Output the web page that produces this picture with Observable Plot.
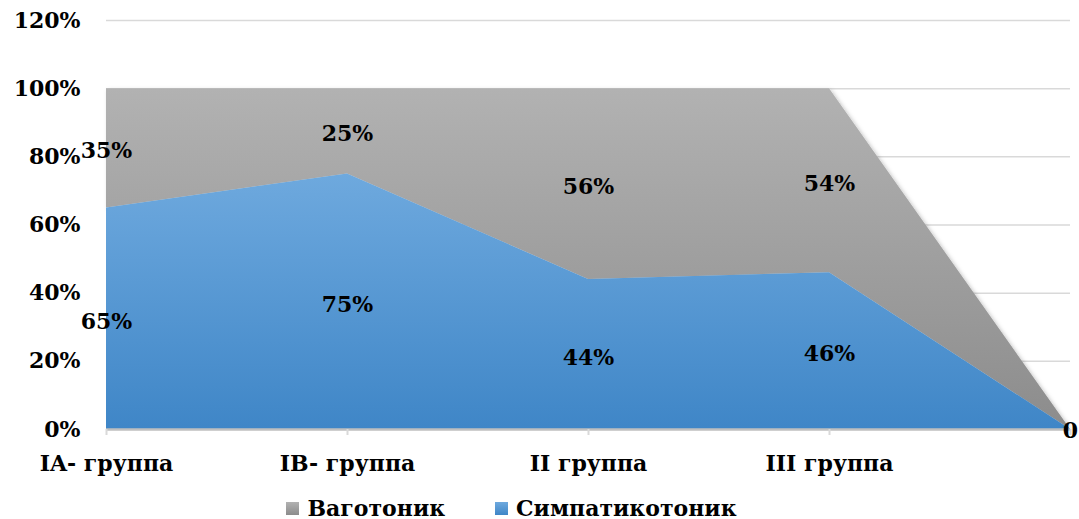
<!DOCTYPE html>
<html>
<head>
<meta charset="utf-8">
<script src="https://cdn.jsdelivr.net/npm/d3@7"></script>
<script src="https://cdn.jsdelivr.net/npm/@observablehq/plot@0.6"></script>
<style>
  html, body { margin: 0; padding: 0; background: #fff; }
  #chart { width: 1079px; }
  .legend { display: flex; justify-content: center; align-items: center; height: 34px; padding-top: 6px;
    font-family: "DejaVu Serif", serif; font-weight: bold; font-size: 22px; color: #000; padding-right: 56px; }
  .legend .item { display: flex; align-items: center; margin: 0 25px; }
  .legend .sw { width: 13px; height: 13px; margin-right: 8px; }
</style>
</head>
<body>
<div id="chart"></div>
<script>
const categories = ["IA- группа", "IB- группа", "II группа", "III группа", ""];
const sympathicotonic = [0.65, 0.75, 0.44, 0.46, 0];
const vagotonic = [0.35, 0.25, 0.56, 0.54, 0];
const seriesNames = ["Ваготоник", "Симпатикотоник"];
const yTicks = [0, 0.2, 0.4, 0.6, 0.8, 1.0, 1.2];

const rows = categories.map((c, i) => ({
  cat: c,
  s0: 0, s1: sympathicotonic[i],
  v0: sympathicotonic[i], v1: sympathicotonic[i] + vagotonic[i],
  sMid: sympathicotonic[i] / 2,
  vMid: sympathicotonic[i] + vagotonic[i] / 2,
  sv: sympathicotonic[i], vv: vagotonic[i]
}));
const fmt = v => v === 0 ? "0" : Math.round(v * 100) + "%";

const plot = Plot.plot({
  width: 1079,
  height: 485,
  marginLeft: 106,
  marginRight: 9,
  marginTop: 20,
  marginBottom: 56,
  style: { fontFamily: "DejaVu Serif, serif", fontSize: "22px", fontWeight: "bold", color: "#000", background: "#fff" },
  x: { type: "point", domain: categories, padding: 0, label: null },
  y: { domain: [0, 1.2], label: null },
  marks: [
    Plot.gridY(yTicks.filter(t => t > 0), { stroke: "#d9d9d9", strokeOpacity: 1, strokeWidth: 1.5 }),
    Plot.areaY(rows, { x: "cat", y1: "v0", y2: "v1", fill: "url(#gGray)", curve: "linear", className: "grayArea" }),
    Plot.areaY(rows, { x: "cat", y1: "s0", y2: "s1", fill: "url(#gBlue)", curve: "linear" }),
    Plot.ruleY([0], { stroke: "#bfbfbf", strokeWidth: 2.5 }),
    Plot.axisX({ tickSize: 6, tickPadding: 20, stroke: "#d9d9d9", strokeWidth: 2, tickFormat: d => d, fill: "#000", label: null }),
    Plot.axisY({ ticks: yTicks, tickSize: 0, tickPadding: 26, tickFormat: d => Math.round(d * 100) + "%", fill: "#000", label: null }),
    Plot.text(rows.filter(r => r.vv > 0), { x: "cat", y: "vMid", text: d => fmt(d.vv), dy: 3, fill: "#000" }),
    Plot.text(rows.filter(r => r.sv > 0), { x: "cat", y: "sMid", text: d => fmt(d.sv), dy: 3, fill: "#000" }),
    Plot.text(rows.filter(r => r.sv === 0 && r.vv === 0), { x: "cat", y: "s1", text: d => fmt(d.sv), dy: 1, fill: "#000" })
  ]
});

const defs = `
<defs>
  <linearGradient id="gBlue" x1="0" y1="0" x2="0" y2="1">
    <stop offset="0" stop-color="#6ea9de"/>
    <stop offset="1" stop-color="#3f86c7"/>
  </linearGradient>
  <linearGradient id="gGray" x1="0" y1="0" x2="0" y2="1">
    <stop offset="0" stop-color="#b2b2b2"/>
    <stop offset="1" stop-color="#8c8c8c"/>
  </linearGradient>
  <filter id="shadow" x="-5%" y="-5%" width="110%" height="110%">
    <feDropShadow dx="2" dy="2" stdDeviation="2" flood-color="#000" flood-opacity="0.25"/>
  </filter>
</defs>`;
plot.insertAdjacentHTML("afterbegin", defs);
const ga = plot.querySelector(".grayArea");
if (ga) ga.setAttribute("filter", "url(#shadow)");

document.getElementById("chart").appendChild(plot);

const legend = document.createElement("div");
legend.className = "legend";
const swatchBg = {
  "Ваготоник": "linear-gradient(#b2b2b2, #8c8c8c)",
  "Симпатикотоник": "linear-gradient(#6ea9de, #3f86c7)"
};
seriesNames.forEach(n => {
  const it = document.createElement("div");
  it.className = "item";
  it.innerHTML = `<div class="sw" style="background:${swatchBg[n]}"></div><span>${n}</span>`;
  legend.appendChild(it);
});
document.getElementById("chart").appendChild(legend);
</script>
</body>
</html>
